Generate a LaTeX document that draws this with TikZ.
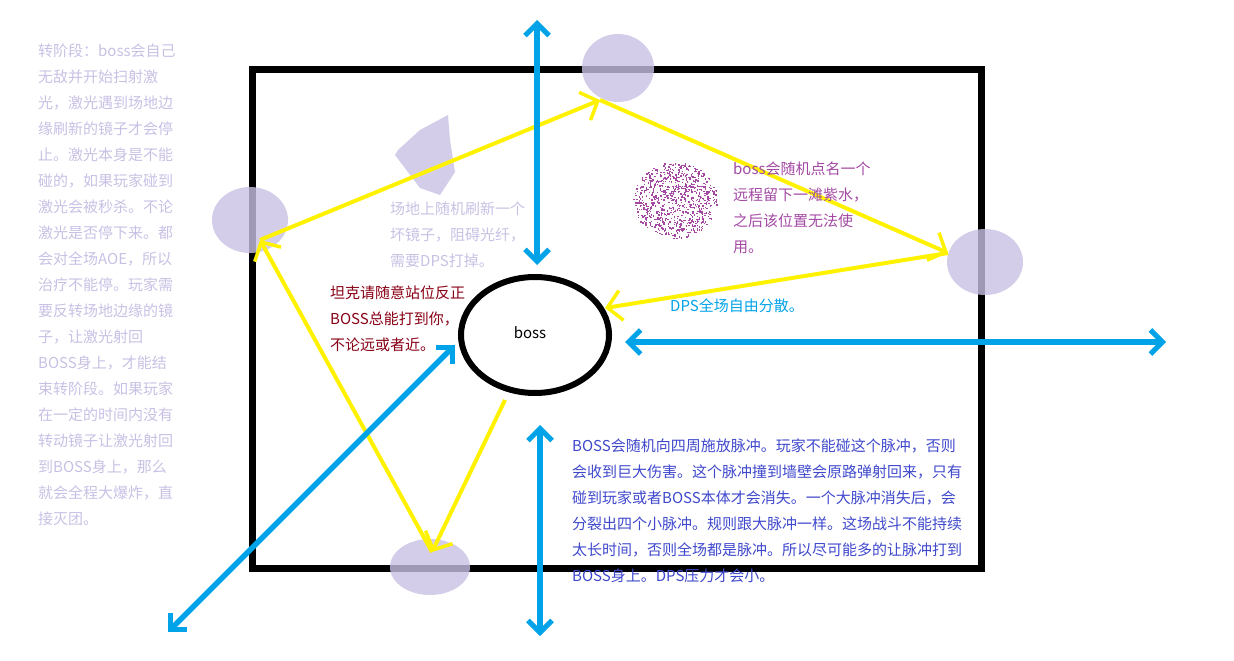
\documentclass[tikz,border=0pt]{standalone}
\usepackage{fontspec}
\newfontfamily\cjk{Noto Sans CJK SC}
\usetikzlibrary{arrows.meta,calc,shapes.geometric}
\definecolor{sky}{HTML}{00A2E8}
\definecolor{yel}{HTML}{FFF200}
\definecolor{lav}{HTML}{C8C0E4}
\definecolor{plum}{HTML}{A349A4}
\definecolor{indig}{HTML}{3F48CC}
\definecolor{wine}{HTML}{880015}
\tikzset{
 blue/.style={draw=sky,line width=5.5pt,{Straight Barb[length=12pt,width=24pt,line width=5pt]}-{Straight Barb[length=12pt,width=24pt,line width=5pt]}},
 laser/.style={draw=yel,line width=4pt,-{Straight Barb[length=14pt,width=30pt,line width=3.5pt]}},
 blob/.style={fill=lav,opacity=0.8},
 txt/.style={font=\cjk\fontsize{15}{26}\selectfont,align=left,anchor=north west,inner sep=0pt}
}
\begin{document}
\begin{tikzpicture}[x=1pt,y=-1pt]
\useasboundingbox (0,0) rectangle (1234,661);
\draw[line width=7pt] (252,70) rectangle (981,568);
% blobs
\fill[blob] (250,220) ellipse (38 and 33);
\fill[blob] (618,68) ellipse (36 and 34);
\fill[blob] (985,262) ellipse (38 and 33);
\fill[blob] (430,567) ellipse (40 and 28);
\fill[blob] (398,150) -- (420,130) -- (448,115) -- (450,140) -- (455,172) -- (440,195) -- (420,188) -- (395,155) -- cycle;
% dotted
\pgfmathsetseed{7}
\foreach \i in {1,...,800}{
 \pgfmathsetmacro\r{40*sqrt(rnd)}\pgfmathsetmacro\a{360*rnd}
 \fill[plum] ($(675,200)+(\a:\r*1.05 and \r*0.95)$) rectangle ++(1.4,1.4);}
% boss
\node[draw,line width=6pt,ellipse,minimum width=148pt,minimum height=116pt,inner sep=0pt] (boss) at (535,335) {};
\node[font=\cjk\fontsize{15}{16}\selectfont] at (530,333) {boss};
% laser
\coordinate (l0) at (505,400); \coordinate (m1) at (432,552); \coordinate (m2) at (260,240);
\coordinate (m3) at (600,100); \coordinate (m4) at (948,253); \coordinate (l5) at (605,308);
\draw[laser] (l0) -- (m1);
\draw[laser] (m1) -- (m2);
\draw[laser] (m2) -- (m3);
\draw[laser] (m3) -- (m4);
\draw[laser] (m4) -- (l5);
% blue arrows
\coordinate (a1) at (537,20); \coordinate (a2) at (537,265);
\coordinate (b1) at (625,342); \coordinate (b2) at (1166,342);
\coordinate (c1) at (540,425); \coordinate (c2) at (540,636);
\coordinate (d1) at (455,345); \coordinate (d2) at (168,632);
\draw[blue] (a1) -- (a2);
\draw[blue] (b1) -- (b2);
\draw[blue] (c1) -- (c2);
\draw[blue] (d1) -- (d2);
% texts
\node[txt,text=lav] (t1) at (38,44) {转阶段：boss会自己\\无敌并开始扫射激\\光，激光遇到场地边\\缘刷新的镜子才会停\\止。激光本身是不能\\碰的，如果玩家碰到\\激光会被秒杀。不论\\激光是否停下来。都\\会对全场AOE，所以\\治疗不能停。玩家需\\要反转场地边缘的镜\\子，让激光射回\\BOSS身上，才能结\\束转阶段。如果玩家\\在一定的时间内没有\\转动镜子让激光射回\\到BOSS身上，那么\\就会全程大爆炸，直\\接灭团。};
\node[txt,text=lav] (t2) at (390,202) {场地上随机刷新一个\\坏镜子，阻碍光纤，\\需要DPS打掉。};
\node[txt,text=plum] (t3) at (733,162) {boss会随机点名一个\\远程留下一滩紫水，\\之后该位置无法使\\用。};
\node[txt,text=wine] (t4) at (330,286) {坦克请随意站位反正\\BOSS总能打到你，\\不论远或者近。};
\node[txt,text=sky] (t5) at (670,299) {DPS全场自由分散。};
\node[txt,text=indig] (t6) at (572,439) {BOSS会随机向四周施放脉冲。玩家不能碰这个脉冲，否则\\会收到巨大伤害。这个脉冲撞到墙壁会原路弹射回来，只有\\碰到玩家或者BOSS本体才会消失。一个大脉冲消失后，会\\分裂出四个小脉冲。规则跟大脉冲一样。这场战斗不能持续\\太长时间，否则全场都是脉冲。所以尽可能多的让脉冲打到\\BOSS身上。DPS压力才会小。};
\end{tikzpicture}
\end{document}
